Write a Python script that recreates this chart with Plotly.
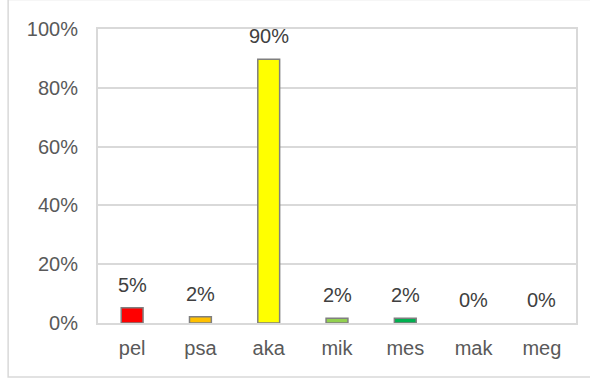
import plotly.graph_objects as go

# Category labels, shares and bar fill colours
categories = ["pel", "psa", "aka", "mik", "mes", "mak", "meg"]
shares = [0.052, 0.021, 0.897, 0.016, 0.016, 0.0, 0.0]
colors = ["#FF0000", "#FFC000", "#FFFF00", "#92D050", "#00B050", "#4472C4", "#7030A0"]
y_ticks = [0, 0.2, 0.4, 0.6, 0.8, 1.0]
y_tick_labels = ["0%", "20%", "40%", "60%", "80%", "100%"]

FONT = "Liberation Sans, Arial, sans-serif"
TEXT_GREY = "#595959"
GRID = "#D9D9D9"

# Empty bars get no outline so nothing is drawn for them
outline_widths = [1.5 if v > 0 else 0 for v in shares]

fig = go.Figure(
    go.Bar(
        x=categories,
        y=shares,
        width=0.32,
        marker=dict(color=colors, line=dict(color="#7F7F7F", width=outline_widths)),
        hoverinfo="skip",
    )
)

# Percentage labels above each bar
for cat, val in zip(categories, shares):
    fig.add_annotation(
        x=cat, y=val, text=f"{val:.0%}", showarrow=False,
        yanchor="middle", yshift=23,
        font=dict(family=FONT, size=20, color="#404040"),
    )

# Light frame around the whole chart (right edge runs off the page)
fig.add_shape(
    type="rect", xref="paper", yref="paper",
    x0=-0.188, x1=1.12, y0=-0.184, y1=1.1,
    line=dict(color=GRID, width=1.5), layer="below",
)

fig.update_layout(
    width=590, height=383,
    margin=dict(l=98, r=14, t=29, b=60),
    paper_bgcolor="white", plot_bgcolor="white",
    showlegend=False,
    font=dict(family=FONT, size=20, color=TEXT_GREY),
    xaxis=dict(
        showline=True, linecolor=GRID, linewidth=2, mirror=True,
        showgrid=False, ticks="", ticklabelstandoff=6,
        tickfont=dict(size=20, color=TEXT_GREY),
    ),
    yaxis=dict(
        range=[0, 1], tickvals=y_ticks, ticktext=y_tick_labels,
        showline=True, linecolor=GRID, linewidth=2, mirror=True,
        showgrid=True, gridcolor=GRID, gridwidth=1.5,
        zeroline=False, ticks="", ticklabelstandoff=14,
        tickfont=dict(size=20, color=TEXT_GREY),
    ),
)

fig.write_html("out.html")
